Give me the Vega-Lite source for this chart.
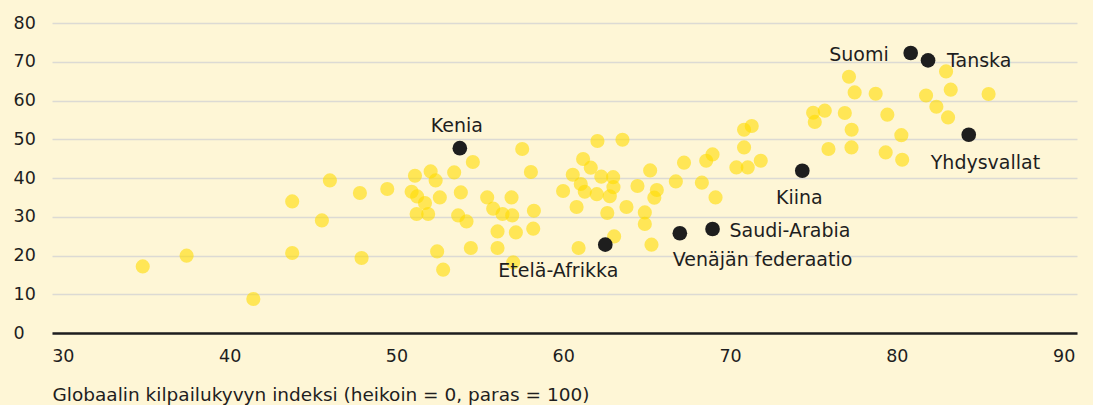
{
  "$schema": "https://vega.github.io/schema/vega-lite/v6.json",
  "width": 1025,
  "height": 310,
  "autosize": {"type": "none"},
  "padding": {"left": 52, "top": 23, "right": 16, "bottom": 72},
  "background": "#FEF6D6",
  "config": {
    "view": {"stroke": null},
    "font": "DejaVu Sans",
    "text": {"font": "DejaVu Sans", "fontSize": 19, "color": "#1E1E1E"}
  },
  "datasets": {
    "muut": [
      {"kilpailukyky": 34.79, "arvo": 17.19}, {"kilpailukyky": 37.42, "arvo": 19.95}, {"kilpailukyky": 41.42, "arvo": 8.77},
      {"kilpailukyky": 43.75, "arvo": 33.96}, {"kilpailukyky": 43.75, "arvo": 20.65}, {"kilpailukyky": 45.53, "arvo": 29.06},
      {"kilpailukyky": 46.01, "arvo": 39.38}, {"kilpailukyky": 47.81, "arvo": 36.13}, {"kilpailukyky": 47.91, "arvo": 19.35},
      {"kilpailukyky": 49.45, "arvo": 37.16}, {"kilpailukyky": 51.11, "arvo": 40.59}, {"kilpailukyky": 52.05, "arvo": 41.7},
      {"kilpailukyky": 52.35, "arvo": 39.38}, {"kilpailukyky": 50.91, "arvo": 36.46}, {"kilpailukyky": 51.24, "arvo": 35.25},
      {"kilpailukyky": 51.71, "arvo": 33.55}, {"kilpailukyky": 52.6, "arvo": 34.99}, {"kilpailukyky": 51.21, "arvo": 30.71},
      {"kilpailukyky": 51.9, "arvo": 30.71}, {"kilpailukyky": 53.46, "arvo": 41.45}, {"kilpailukyky": 54.58, "arvo": 44.13},
      {"kilpailukyky": 53.86, "arvo": 36.28}, {"kilpailukyky": 53.7, "arvo": 30.35}, {"kilpailukyky": 54.2, "arvo": 28.8},
      {"kilpailukyky": 52.44, "arvo": 21.06}, {"kilpailukyky": 52.8, "arvo": 16.34}, {"kilpailukyky": 54.46, "arvo": 21.94},
      {"kilpailukyky": 55.44, "arvo": 34.99}, {"kilpailukyky": 55.8, "arvo": 32.08}, {"kilpailukyky": 56.36, "arvo": 30.71},
      {"kilpailukyky": 56.9, "arvo": 34.99}, {"kilpailukyky": 56.94, "arvo": 30.35}, {"kilpailukyky": 56.06, "arvo": 26.22},
      {"kilpailukyky": 57.16, "arvo": 25.96}, {"kilpailukyky": 56.06, "arvo": 21.94}, {"kilpailukyky": 57.0, "arvo": 18.22},
      {"kilpailukyky": 57.54, "arvo": 47.48}, {"kilpailukyky": 58.06, "arvo": 41.55}, {"kilpailukyky": 58.24, "arvo": 31.56},
      {"kilpailukyky": 58.2, "arvo": 26.92}, {"kilpailukyky": 59.99, "arvo": 36.65}, {"kilpailukyky": 60.57, "arvo": 40.85},
      {"kilpailukyky": 61.19, "arvo": 44.9}, {"kilpailukyky": 61.05, "arvo": 38.45}, {"kilpailukyky": 61.65, "arvo": 42.66},
      {"kilpailukyky": 62.05, "arvo": 49.55}, {"kilpailukyky": 63.55, "arvo": 49.88}, {"kilpailukyky": 61.29, "arvo": 36.46},
      {"kilpailukyky": 62.01, "arvo": 35.82}, {"kilpailukyky": 62.28, "arvo": 40.34}, {"kilpailukyky": 62.99, "arvo": 40.21},
      {"kilpailukyky": 63.01, "arvo": 37.63}, {"kilpailukyky": 62.79, "arvo": 35.3}, {"kilpailukyky": 60.8, "arvo": 32.52},
      {"kilpailukyky": 62.64, "arvo": 30.97}, {"kilpailukyky": 63.79, "arvo": 32.52}, {"kilpailukyky": 64.45, "arvo": 37.94},
      {"kilpailukyky": 65.21, "arvo": 41.96}, {"kilpailukyky": 65.61, "arvo": 36.9}, {"kilpailukyky": 65.46, "arvo": 34.92},
      {"kilpailukyky": 64.89, "arvo": 31.12}, {"kilpailukyky": 64.89, "arvo": 28.15}, {"kilpailukyky": 65.29, "arvo": 22.79},
      {"kilpailukyky": 63.05, "arvo": 24.93}, {"kilpailukyky": 60.92, "arvo": 21.94}, {"kilpailukyky": 66.75, "arvo": 39.12},
      {"kilpailukyky": 67.24, "arvo": 43.95}, {"kilpailukyky": 68.57, "arvo": 44.46}, {"kilpailukyky": 68.95, "arvo": 46.09},
      {"kilpailukyky": 68.31, "arvo": 38.79}, {"kilpailukyky": 69.13, "arvo": 34.99}, {"kilpailukyky": 70.84, "arvo": 52.46},
      {"kilpailukyky": 71.3, "arvo": 53.42}, {"kilpailukyky": 70.84, "arvo": 47.9}, {"kilpailukyky": 70.38, "arvo": 42.74},
      {"kilpailukyky": 71.06, "arvo": 42.74}, {"kilpailukyky": 71.84, "arvo": 44.46}, {"kilpailukyky": 74.98, "arvo": 56.85},
      {"kilpailukyky": 75.08, "arvo": 54.48}, {"kilpailukyky": 75.68, "arvo": 57.37}, {"kilpailukyky": 76.88, "arvo": 56.77},
      {"kilpailukyky": 77.13, "arvo": 66.14}, {"kilpailukyky": 77.47, "arvo": 62.09}, {"kilpailukyky": 78.73, "arvo": 61.75},
      {"kilpailukyky": 77.29, "arvo": 52.46}, {"kilpailukyky": 79.43, "arvo": 56.34}, {"kilpailukyky": 80.27, "arvo": 51.05},
      {"kilpailukyky": 75.9, "arvo": 47.48}, {"kilpailukyky": 77.28, "arvo": 47.9}, {"kilpailukyky": 79.33, "arvo": 46.61},
      {"kilpailukyky": 80.32, "arvo": 44.72}, {"kilpailukyky": 81.75, "arvo": 61.29}, {"kilpailukyky": 82.37, "arvo": 58.4},
      {"kilpailukyky": 83.07, "arvo": 55.64}, {"kilpailukyky": 82.95, "arvo": 67.51}, {"kilpailukyky": 83.23, "arvo": 62.79},
      {"kilpailukyky": 85.5, "arvo": 61.68}
    ],
    "korostetut": [
      {"maa": "Kenia", "kilpailukyky": 53.8, "arvo": 47.69},
      {"maa": "Etelä-Afrikka", "kilpailukyky": 62.52, "arvo": 22.79},
      {"maa": "Venäjän federaatio", "kilpailukyky": 66.99, "arvo": 25.75},
      {"maa": "Saudi-Arabia", "kilpailukyky": 68.95, "arvo": 26.84},
      {"maa": "Kiina", "kilpailukyky": 74.33, "arvo": 41.88},
      {"maa": "Suomi", "kilpailukyky": 80.83, "arvo": 72.26},
      {"maa": "Tanska", "kilpailukyky": 81.87, "arvo": 70.35},
      {"maa": "Yhdysvallat", "kilpailukyky": 84.31, "arvo": 51.17}
    ]
  },
  "encoding": {
    "x": {
      "field": "kilpailukyky", "type": "quantitative",
      "scale": {"domain": [29.35, 90.8], "nice": false, "zero": false},
      "axis": {
        "values": [30, 40, 50, 60, 70, 80, 90],
        "title": "Globaalin kilpailukyvyn indeksi (heikoin = 0, paras = 100)",
        "titleFont": "DejaVu Sans", "titleFontSize": 18.5, "titleFontWeight": "normal", "titleColor": "#1E1E1E",
        "titleAnchor": "start", "titleAlign": "left", "titlePadding": 21,
        "labelFont": "DejaVu Sans", "labelFontSize": 17.5, "labelColor": "#1E1E1E", "labelPadding": 14,
        "domainColor": "#1E1E1E", "domainWidth": 2.5, "ticks": false, "tickSize": 0, "grid": false
      }
    },
    "y": {
      "field": "arvo", "type": "quantitative",
      "scale": {"domain": [0, 80], "nice": false},
      "axis": {
        "values": [0, 10, 20, 30, 40, 50, 60, 70, 80],
        "title": null, "domain": false, "ticks": false, "tickSize": 0,
        "labelFont": "DejaVu Sans", "labelFontSize": 17.5, "labelColor": "#1E1E1E",
        "labelAlign": "left", "labelPadding": 39, "labelBaseline": "middle",
        "grid": true, "gridColor": "#DCDAD4", "gridWidth": 1.5
      }
    }
  },
  "layer": [
    {"data": {"name": "muut"}, "mark": {"type": "circle", "size": 200, "color": "#FFDC00", "opacity": 0.6}},
    {"data": {"name": "korostetut"}, "mark": {"type": "circle", "size": 215, "color": "#1E1E1E", "opacity": 1}},
    {"data": {"name": "korostetut"}, "transform": [{"filter": "datum.maa === 'Kenia'"}], "mark": {"type": "text", "align": "center", "baseline": "middle", "dx": -3, "dy": -22}, "encoding": {"text": {"field": "maa"}}},
    {"data": {"name": "korostetut"}, "transform": [{"filter": "datum.maa === 'Etelä-Afrikka'"}], "mark": {"type": "text", "align": "right", "baseline": "middle", "dx": 13, "dy": 26}, "encoding": {"text": {"field": "maa"}}},
    {"data": {"name": "korostetut"}, "transform": [{"filter": "datum.maa === 'Venäjän federaatio'"}], "mark": {"type": "text", "align": "left", "baseline": "middle", "dx": -7, "dy": 27}, "encoding": {"text": {"field": "maa"}}},
    {"data": {"name": "korostetut"}, "transform": [{"filter": "datum.maa === 'Saudi-Arabia'"}], "mark": {"type": "text", "align": "left", "baseline": "middle", "dx": 17, "dy": 2}, "encoding": {"text": {"field": "maa"}}},
    {"data": {"name": "korostetut"}, "transform": [{"filter": "datum.maa === 'Kiina'"}], "mark": {"type": "text", "align": "center", "baseline": "middle", "dx": -3, "dy": 27}, "encoding": {"text": {"field": "maa"}}},
    {"data": {"name": "korostetut"}, "transform": [{"filter": "datum.maa === 'Suomi'"}], "mark": {"type": "text", "align": "right", "baseline": "middle", "dx": -22, "dy": 2}, "encoding": {"text": {"field": "maa"}}},
    {"data": {"name": "korostetut"}, "transform": [{"filter": "datum.maa === 'Tanska'"}], "mark": {"type": "text", "align": "left", "baseline": "middle", "dx": 19, "dy": 1}, "encoding": {"text": {"field": "maa"}}},
    {"data": {"name": "korostetut"}, "transform": [{"filter": "datum.maa === 'Yhdysvallat'"}], "mark": {"type": "text", "align": "left", "baseline": "middle", "dx": -38, "dy": 28}, "encoding": {"text": {"field": "maa"}}}
  ]
}
